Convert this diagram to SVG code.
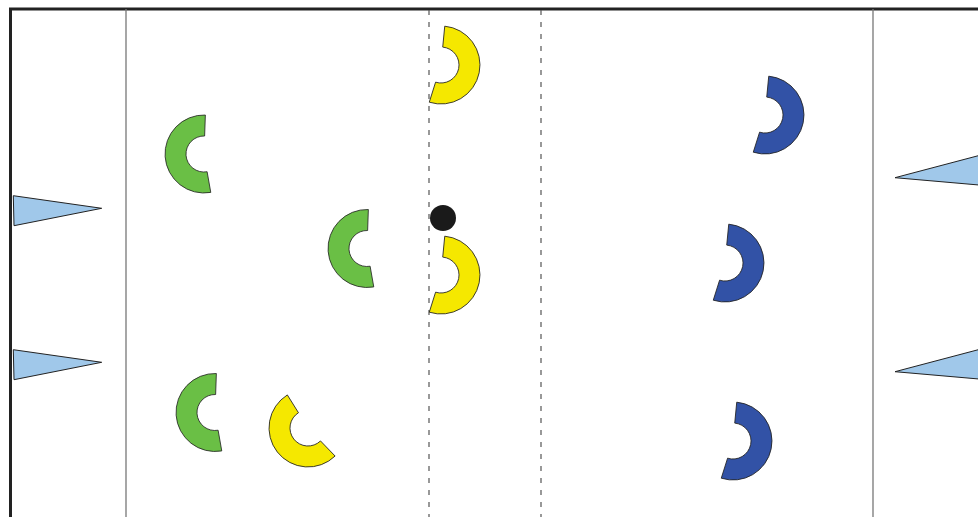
<svg xmlns="http://www.w3.org/2000/svg" width="978" height="517" viewBox="0 0 978 517">
<style>
.border{fill:none;stroke:#222;stroke-width:3}
.line{stroke:#777;stroke-width:1.3}
.dash{stroke:#555;stroke-width:1.2;stroke-dasharray:5 7}
.cone{fill:#a0c8ea;stroke:#222;stroke-width:1}
.green{fill:#6abf45;stroke:#222;stroke-width:0.8}
.yellow{fill:#f5e800;stroke:#222;stroke-width:0.8}
.blue{fill:#3252a6;stroke:#222;stroke-width:0.8}
.ball{fill:#1a1a1a}
</style>
<defs>
<path id="ring" d="M -4.08,-38.79 A 39 39 0 1 1 -4.08,38.79 L -1.88,17.9 A 18 18 0 1 0 -1.88,-17.9 Z"/>
</defs>
<rect width="978" height="517" fill="#fff"/>
<g id="field">
<path class="border" d="M10.5,517 V9 H978"/>
<line class="line" x1="126" y1="9" x2="126" y2="517"/>
<line class="line" x1="873" y1="9" x2="873" y2="517"/>
<line class="dash" x1="429" y1="10" x2="429" y2="517"/>
<line class="dash" x1="541" y1="10" x2="541" y2="517"/>
</g>
<g id="cones">
<polygon id="cone-l1" class="cone" points="13.3,195.7 101.7,208.3 14,225.7"/>
<polygon id="cone-l2" class="cone" points="13.3,349.7 101.7,362.3 14,379.7"/>
<polygon id="cone-r1" class="cone" points="979,155.5 895,177.7 979,185"/>
<polygon id="cone-r2" class="cone" points="979,349.5 895,371.7 979,379"/>
</g>
<g id="green-1"><use href="#ring" class="green" transform="translate(204,154) rotate(176)"/></g>
<g id="green-2"><use href="#ring" class="green" transform="translate(367,248.5) rotate(176)"/></g>
<g id="green-3"><use href="#ring" class="green" transform="translate(215,412.5) rotate(176)"/></g>
<g id="yellow-1"><use href="#ring" class="yellow" transform="translate(441,65) rotate(11.5)"/></g>
<g id="yellow-2"><use href="#ring" class="yellow" transform="translate(441,275) rotate(11.5)"/></g>
<g id="yellow-3"><use href="#ring" class="yellow" transform="translate(308,428) rotate(142)"/></g>
<g id="blue-1"><use href="#ring" class="blue" transform="translate(765,115) rotate(11.5)"/></g>
<g id="blue-2"><use href="#ring" class="blue" transform="translate(725,263) rotate(11.5)"/></g>
<g id="blue-3"><use href="#ring" class="blue" transform="translate(733,441) rotate(11.5)"/></g>
<g id="ball"><circle class="ball" cx="443" cy="218" r="13"/></g>
</svg>
